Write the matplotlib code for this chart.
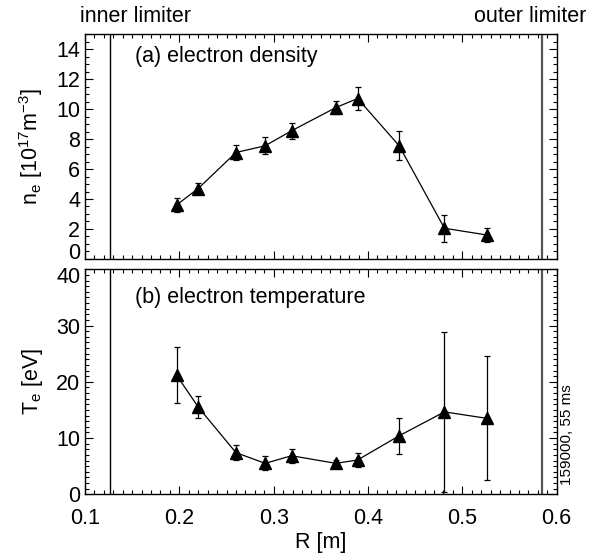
import numpy as np
import matplotlib.pyplot as plt
from matplotlib.ticker import MultipleLocator
from matplotlib.transforms import ScaledTranslation

plt.rcParams['font.family'] = ['Liberation Sans', 'DejaVu Sans']
plt.rcParams['mathtext.default'] = 'regular'

# radial positions [m]
R = [0.197, 0.220, 0.260, 0.291, 0.319, 0.366, 0.389, 0.433, 0.481, 0.526]

# electron density [1e17 m^-3]
ne = [3.6, 4.7, 7.1, 7.55, 8.55, 10.1, 10.7, 7.55, 2.05, 1.6]
ne_err = [0.45, 0.35, 0.48, 0.58, 0.52, 0.44, 0.77, 0.98, 0.9, 0.48]

# electron temperature [eV]
Te = [21.2, 15.5, 7.4, 5.5, 6.85, 5.5, 6.1, 10.4, 14.65, 13.5]
Te_err = [5.0, 1.9, 1.3, 1.25, 1.25, 0.65, 1.25, 3.25, 14.2, 11.0]

ne_ticks = [0, 2, 4, 6, 8, 10, 12, 14]
Te_ticks = [0, 10, 20, 30, 40]
R_ticks = [0.1, 0.2, 0.3, 0.4, 0.5, 0.6]

inner_lim = 0.1265
outer_lim = 0.5845

fig = plt.figure(figsize=(5.95, 5.54), dpi=100)
ax1 = fig.add_axes([0.1429, 0.5325, 0.7927, 0.4061])
ax2 = fig.add_axes([0.1429, 0.1078, 0.7927, 0.4061])

fs = 15.5


def style(ax, ymin):
    ax.set_xlim(0.1, 0.6)
    ax.set_xticks(R_ticks, [f'{r:.1f}' for r in R_ticks])
    ax.xaxis.set_minor_locator(MultipleLocator(0.01))
    ax.yaxis.set_minor_locator(MultipleLocator(ymin))
    ax.tick_params(which='both', direction='in', top=True, right=True,
                   labelsize=fs, width=0.8)
    ax.tick_params(which='major', length=6)
    ax.tick_params(which='minor', length=3)
    for s in ax.spines.values():
        s.set_linewidth(1.0)


for ax, y, e in [(ax1, ne, ne_err), (ax2, Te, Te_err)]:
    ax.errorbar(R, y, yerr=e, fmt='-', color='black', lw=0.9,
                elinewidth=0.9, capsize=2.5, capthick=0.9,
                marker='^', ms=9, mfc='black', mec='black')
    ax.axvline(inner_lim, color='black', lw=1.0)
    ax.axvline(outer_lim, color='#555555', lw=1.6)

style(ax1, 0.5)
ax1.set_ylim(0, 15)
ax1.set_yticks(ne_ticks, [str(t) for t in ne_ticks])
ax1.tick_params(labelbottom=False)
ax1.set_ylabel('n$_e$ [10$^{17}$m$^{-3}$]', fontsize=fs)
ax1.text(0.105, 0.9, '(a) electron density', transform=ax1.transAxes,
         fontsize=fs, va='center', ha='left')

style(ax2, 1)
ax2.set_ylim(0, 40)
ax2.set_yticks(Te_ticks, [str(t) for t in Te_ticks])
ax2.tick_params(axis='x', pad=10)
ax2.set_ylabel('T$_e$ [eV]', fontsize=fs)
ax2.set_xlabel('R [m]', fontsize=fs, labelpad=2)
ax2.text(0.105, 0.875, '(b) electron temperature', transform=ax2.transAxes,
         fontsize=fs, va='center', ha='left')

# keep the shared-corner labels apart, like the original
lbl0 = ax1.get_yticklabels()[0]
lbl0.set_transform(lbl0.get_transform()
                   + ScaledTranslation(0, 8 / 100, fig.dpi_scale_trans))
lbl40 = ax2.get_yticklabels()[-1]
lbl40.set_transform(lbl40.get_transform()
                    + ScaledTranslation(0, -6 / 100, fig.dpi_scale_trans))

ax1.yaxis.set_label_coords(-0.085, 0.5)
ax2.yaxis.set_label_coords(-0.085, 0.5)

fig.text(80 / 595, 1 - 16 / 554, 'inner limiter', fontsize=fs,
         ha='left', va='center')
fig.text(586 / 595, 1 - 16 / 554, 'outer limiter', fontsize=fs,
         ha='right', va='center')
fig.text(567 / 595, 1 - 435 / 554, '159000, 55 ms', fontsize=11,
         rotation=90, ha='center', va='center')

fig.savefig('out.png', dpi=100)
